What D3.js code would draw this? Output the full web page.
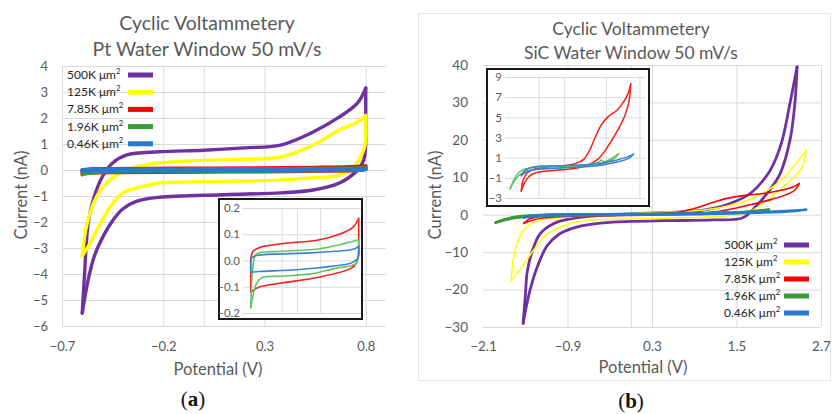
<!DOCTYPE html>
<html>
<head>
<meta charset="utf-8">
<script src="https://cdn.jsdelivr.net/npm/d3@7"></script>
<style>
  body { margin: 0; background: #fff; }
  svg { display: block; }
  text { font-family: Lato, "Open Sans", sans-serif; }
</style>
</head>
<body>
<div id="chart"></div>
<script>
// tick values
const ptXTicks = [-0.7, -0.2, 0.3, 0.8];
const ptYTicks = [-6, -5, -4, -3, -2, -1, 0, 1, 2, 3, 4];
const ptInsetYTicks = [-0.2, -0.1, 0.0, 0.1, 0.2];
const sicXTicks = [-2.1, -0.9, 0.3, 1.5, 2.7];
const sicYTicks = [-30, -20, -10, 0, 10, 20, 30, 40];
const sicInsetYTicks = [-3, -1, 1, 3, 5, 7, 9];

// electrode areas (legend)
const areaLabels = ["500K", "125K", "7.85K", "1.96K", "0.46K"];

// Pt electrodes: [potential V, current nA], forward sweep then return sweep
const ptPurple = [[-0.6, -5.5], [-0.59, -4.2], [-0.57, -2.0], [-0.54, -1.0], [-0.5, -0.25], [-0.45, 0.27], [-0.38, 0.58],
  [-0.22, 0.7], [0.0, 0.76], [0.2, 0.85], [0.38, 0.96], [0.54, 1.46], [0.67, 2.04], [0.76, 2.58], [0.8, 3.15],
  [0.8, 1.15], [0.79, 0.38], [0.76, 0.0], [0.67, -0.5], [0.54, -0.77], [0.38, -0.88], [0.1, -0.95], [-0.22, -1.05],
  [-0.33, -1.2], [-0.4, -1.5], [-0.45, -1.95], [-0.5, -2.6], [-0.54, -3.3], [-0.57, -4.2], [-0.6, -5.5]];
const ptYellow = [[-0.6, -3.3], [-0.58, -2.2], [-0.54, -1.2], [-0.49, -0.57], [-0.43, -0.2], [-0.35, 0.08], [-0.22, 0.27],
  [0.1, 0.4], [0.38, 0.5], [0.54, 0.96], [0.67, 1.54], [0.76, 1.85], [0.8, 2.1],
  [0.8, 1.2], [0.79, 0.77], [0.74, 0.12], [0.67, -0.2], [0.54, -0.3], [0.38, -0.38], [0.1, -0.44], [-0.22, -0.5],
  [-0.31, -0.65], [-0.4, -0.88], [-0.46, -1.4], [-0.52, -2.2], [-0.56, -2.8], [-0.6, -3.3]];
const ptRed = [[-0.6, -0.12], [-0.6, 0.0], [-0.57, 0.035], [-0.48, 0.05], [-0.18, 0.065], [0.26, 0.077], [0.55, 0.1],
  [0.72, 0.125], [0.8, 0.16], [0.8, 0.04], [0.77, -0.01], [0.7, -0.03], [0.26, -0.065], [-0.18, -0.085],
  [-0.48, -0.1], [-0.6, -0.12]];
const ptGreen = [[-0.6, -0.18], [-0.59, -0.1], [-0.57, -0.02], [-0.54, 0.02], [-0.48, 0.03], [-0.2, 0.035], [0.3, 0.045],
  [0.55, 0.06], [0.75, 0.075], [0.8, 0.08], [0.8, 0.02], [0.77, -0.01], [0.7, -0.02], [0.5, -0.03], [0.2, -0.05],
  [-0.2, -0.06], [-0.45, -0.065], [-0.52, -0.085], [-0.56, -0.12], [-0.6, -0.18]];
const ptBlue = [[-0.6, -0.045], [-0.6, 0.0], [-0.58, 0.012], [-0.5, 0.02], [0.0, 0.027], [0.5, 0.035], [0.75, 0.045],
  [0.8, 0.055], [0.79, 0.01], [0.7, -0.01], [0.5, -0.02], [0.0, -0.035], [-0.5, -0.042], [-0.6, -0.045]];

// SiC electrodes
const sicPurple = [[-1.53, -29], [-1.5, -22], [-1.47, -15], [-1.4, -9.7], [-1.29, -5.1], [-1.1, -2.4], [-0.86, -1.1],
  [-0.5, -0.3], [0.0, 0.2], [0.5, 0.6], [0.98, 1.1], [1.2, 1.8], [1.41, 3], [1.69, 5.6], [1.95, 11], [2.06, 15],
  [2.15, 19.9], [2.26, 29.8], [2.36, 39.5],
  [2.33, 30], [2.26, 20], [2.12, 11], [1.93, 5.6], [1.76, 1.9], [1.59, -0.8], [1.17, -1.4], [0.5, -1.6], [0.0, -1.8],
  [-0.4, -2.2], [-0.77, -3.3], [-1.01, -5.1], [-1.19, -8.3], [-1.33, -14], [-1.43, -20], [-1.49, -25], [-1.53, -29]];
const sicYellow = [[-1.7, -17.7], [-1.67, -12], [-1.62, -7.8], [-1.53, -4.3], [-1.39, -2.2], [-1.2, -1.2], [-0.9, -0.6],
  [-0.5, -0.1], [0.0, 0.3], [0.5, 0.7], [1.0, 1.2], [1.17, 1.6], [1.4, 2.5], [1.65, 3.8], [1.98, 7], [2.15, 9.5],
  [2.3, 12.6], [2.49, 17.2],
  [2.43, 12.6], [2.33, 10.3], [2.22, 8.3], [1.98, 4.6], [1.79, 1.9], [1.65, 0.5], [1.4, -0.3], [1.0, -0.7],
  [0.3, -1.0], [-0.3, -1.3], [-0.68, -1.6], [-0.96, -3], [-1.19, -5.1], [-1.39, -9.7], [-1.55, -14], [-1.7, -17.7]];
const sicRed = [[-1.52, -2.3], [-1.45, -1.2], [-1.3, -0.5], [-1.0, -0.1], [-0.5, 0.1], [0.0, 0.2], [0.4, 0.4], [0.7, 0.8],
  [0.95, 1.9], [1.15, 3.2], [1.35, 4.3], [1.6, 5.1], [1.9, 5.7], [2.15, 6.6], [2.3, 7.4], [2.39, 8.3],
  [2.33, 6.6], [2.2, 5.3], [2.0, 4.1], [1.75, 2.9], [1.5, 1.8], [1.2, 0.8], [0.8, 0.2], [0.3, -0.1], [-0.5, -0.3],
  [-1.0, -0.5], [-1.25, -0.9], [-1.42, -1.6], [-1.52, -2.3]];
const sicGreen = [[-1.92, -2.1], [-1.8, -1.3], [-1.65, -0.6], [-1.45, -0.2], [-1.0, 0.05], [0.0, 0.15], [0.8, 0.3],
  [1.2, 0.5], [1.35, 0.75], [1.45, 0.6], [1.7, 0.9], [1.96, 1.4],
  [1.8, 0.9], [1.5, 0.5], [1.0, 0.2], [0.0, 0.0], [-1.0, -0.2], [-1.4, -0.4], [-1.65, -0.9], [-1.8, -1.5], [-1.92, -2.1]];
const sicBlue = [[-1.52, -0.8], [-1.4, -0.3], [-1.2, 0.0], [-0.9, 0.15], [0.0, 0.2], [1.0, 0.35], [1.8, 0.7], [2.2, 1.0],
  [2.49, 1.35],
  [2.3, 0.9], [1.8, 0.5], [1.0, 0.15], [0.0, 0.0], [-1.0, -0.15], [-1.3, -0.35], [-1.52, -0.8]];

const COLORS = ["#7030a0", "#ffff00", "#ff0000", "#3a9a3a", "#2a78cf"];
const INSET_COLORS = { red: "#ff1a1a", green: "#66c466", blue: "#3a80d4" };
const GREY = "#595959";
const GRID = "#d9d9d9";

const svg = d3.select("#chart").append("svg")
  .attr("width", 832)
  .attr("height", 414);

// split a loop where the sweep direction turns, so vertices stay sharp
function splitRuns(pts) {
  const runs = [];
  let cur = [pts[0]], dir = null;
  for (let i = 1; i < pts.length; i++) {
    const d = Math.sign(pts[i][0] - pts[i - 1][0]);
    if (dir !== null && d !== dir) {
      runs.push(cur);
      cur = [pts[i - 1]];
    }
    dir = d;
    cur.push(pts[i]);
  }
  runs.push(cur);
  return runs;
}

function drawLoop(g, pts, x, y, color, width) {
  const line = d3.line()
    .x(d => x(d[0]))
    .y(d => y(d[1]))
    .curve(d3.curveCatmullRom.alpha(0.5));
  g.append("g").selectAll("path")
    .data(splitRuns(pts))
    .join("path")
    .attr("d", line)
    .attr("fill", "none")
    .attr("stroke", color)
    .attr("stroke-width", width)
    .attr("stroke-linejoin", "round")
    .attr("stroke-linecap", "round");
}

function grid(g, x, y, xVals, yVals) {
  const [x0, x1] = x.range();
  const [y0, y1] = y.range();
  g.append("g")
    .attr("transform", `translate(${x0},0)`)
    .call(d3.axisLeft(y).tickValues(yVals).tickSize(-(x1 - x0)).tickFormat(""))
    .call(a => a.select(".domain").remove())
    .call(a => a.selectAll("line").attr("stroke", GRID));
  g.append("g")
    .attr("transform", `translate(0,${y0})`)
    .call(d3.axisBottom(x).tickValues(xVals).tickSize(-(y0 - y1)).tickFormat(""))
    .call(a => a.select(".domain").remove())
    .call(a => a.selectAll("line").attr("stroke", GRID));
}

function tickLabels(g, x, y, xVals, yVals, fmtX, fmtY, size, padX, padY) {
  const [x0] = x.range();
  const [y0] = y.range();
  if (yVals) {
    g.append("g")
      .attr("transform", `translate(${x0},0)`)
      .call(d3.axisLeft(y).tickValues(yVals).tickSize(0).tickPadding(padY).tickFormat(fmtY))
      .call(a => a.select(".domain").remove())
      .call(a => a.selectAll("text").attr("fill", GREY).style("font-size", size + "px")
        .style("font-family", "Lato, 'Open Sans', sans-serif"));
  }
  if (xVals) {
    g.append("g")
      .attr("transform", `translate(0,${y0})`)
      .call(d3.axisBottom(x).tickValues(xVals).tickSize(0).tickPadding(padX).tickFormat(fmtX))
      .call(a => a.select(".domain").remove())
      .call(a => a.selectAll("text").attr("fill", GREY).style("font-size", size + "px")
        .style("font-family", "Lato, 'Open Sans', sans-serif"));
  }
}

function legend(g, x0, swatchX, y0, step, size) {
  areaLabels.forEach((lab, i) => {
    const cy = y0 + i * step;
    const t = g.append("text")
      .attr("x", x0).attr("y", cy + 4)
      .attr("fill", "#262626")
      .style("font-size", size + "px");
    t.append("tspan").text(lab + " \u03bcm");
    t.append("tspan").attr("dy", -5).style("font-size", (size * 0.65) + "px").text("2");
    g.append("rect")
      .attr("x", swatchX).attr("y", cy - 2.5)
      .attr("width", 25).attr("height", 5)
      .attr("fill", COLORS[i]);
  });
}

function titles(g, cx, lines, base, gap, size) {
  lines.forEach((s, i) => {
    g.append("text")
      .attr("x", cx).attr("y", base + i * gap)
      .attr("text-anchor", "middle")
      .attr("fill", GREY)
      .style("font-size", size + "px")
      .text(s);
  });
}

function axisTitles(g, xcx, xby, ycx, ycy, size) {
  g.append("text")
    .attr("x", xcx).attr("y", xby)
    .attr("text-anchor", "middle")
    .attr("fill", GREY)
    .style("font-size", size + "px")
    .text("Potential (V)");
  g.append("text")
    .attr("transform", `translate(${ycx},${ycy}) rotate(-90)`)
    .attr("text-anchor", "middle")
    .attr("fill", GREY)
    .style("font-size", size + "px")
    .text("Current (nA)");
}

function panelTag(g, cx, by, letter) {
  const t = g.append("text")
    .attr("x", cx).attr("y", by)
    .attr("text-anchor", "middle")
    .attr("fill", "#111")
    .style("font-family", "'Liberation Serif', 'DejaVu Serif', serif")
    .style("font-size", "21px");
  t.append("tspan").text("(");
  t.append("tspan").style("font-weight", "bold").text(letter);
  t.append("tspan").text(")");
}

// ---------- panel (a): Pt ----------
const ga = svg.append("g");
const ptX = d3.scaleLinear().domain([-0.7, 0.9]).range([62, 386]);
const ptY = d3.scaleLinear().domain([-6, 4]).range([326, 66]);

grid(ga, ptX, ptY, [-0.7, -0.2, 0, 0.3, 0.8], ptYTicks);
tickLabels(ga, ptX, ptY, ptXTicks, ptYTicks, d3.format(".1f"), d3.format("d"), 13, 16, 14);
titles(ga, 207, ["Cyclic Voltammetery", "Pt Water Window 50 mV/s"], 30, 26, 19.5);
axisTitles(ga, 218, 375, 27, 195, 16.5);

[ptPurple, ptYellow, ptRed, ptGreen, ptBlue].forEach((s, i) => drawLoop(ga, s, ptX, ptY, COLORS[i], 3.4));
legend(ga, 67, 128, 75, 17.2, 12);

// inset (a)
const ia = ga.append("g");
ia.append("rect").attr("x", 219).attr("y", 199).attr("width", 143).attr("height", 120)
  .attr("fill", "#fff").attr("stroke", "#1a1a1a").attr("stroke-width", 2);
const ptInX = d3.scaleLinear().domain([-0.7, 0.83]).range([243, 361]);
const ptInY = d3.scaleLinear().domain([-0.2, 0.2]).range([313, 208]);
grid(ia, ptInX, ptInY, [-0.2, 0, 0.3], ptInsetYTicks);
tickLabels(ia, ptInX, ptInY, null, ptInsetYTicks, null, d3.format(".1f"), 11.5, 0, 3);
drawLoop(ia, ptRed, ptInX, ptInY, INSET_COLORS.red, 1.6);
drawLoop(ia, ptGreen, ptInX, ptInY, INSET_COLORS.green, 1.6);
drawLoop(ia, ptBlue, ptInX, ptInY, INSET_COLORS.blue, 1.6);

panelTag(ga, 193, 406, "a");

// ---------- panel (b): SiC ----------
const gb = svg.append("g");
gb.append("rect").attr("x", 418.5).attr("y", 13.5).attr("width", 412).attr("height", 367)
  .attr("fill", "none").attr("stroke", "#e3e3e3");
const sicX = d3.scaleLinear().domain([-2.1, 2.7]).range([483, 821]);
const sicY = d3.scaleLinear().domain([-30, 40]).range([327, 65]);

grid(gb, sicX, sicY, [-0.9, 0, 0.3, 1.5, 2.7], sicYTicks);
tickLabels(gb, sicX, sicY, sicXTicks, sicYTicks, d3.format(".1f"), d3.format("d"), 13.5, 14, 15);
titles(gb, 631, ["Cyclic Voltammetery", "SiC Water Window 50 mV/s"], 35, 24, 17.5);
axisTitles(gb, 643, 373, 441, 195, 16.5);

const sicWidths = [2.8, 1.5, 1.6, 2.6, 2.2];
[sicPurple, sicYellow, sicRed, sicGreen, sicBlue].forEach((s, i) => drawLoop(gb, s, sicX, sicY, COLORS[i], sicWidths[i]));
legend(gb, 724, 784, 245, 17, 12);

// inset (b)
const ib = gb.append("g");
ib.append("rect").attr("x", 487).attr("y", 69).attr("width", 162).attr("height", 137)
  .attr("fill", "#fff").attr("stroke", "#1a1a1a").attr("stroke-width", 2);
const sicInX = d3.scaleLinear().domain([-2.1, 2.9]).range([505, 645]);
const sicInY = d3.scaleLinear().domain([-3, 9]).range([198, 77]);
grid(ib, sicInX, sicInY, [-0.9, 0, 1.5, 2.7], sicInsetYTicks);
tickLabels(ib, sicInX, sicInY, null, sicInsetYTicks, null, d3.format("d"), 11.5, 0, 3);
drawLoop(ib, sicRed, sicInX, sicInY, INSET_COLORS.red, 1.5);
drawLoop(ib, sicGreen, sicInX, sicInY, INSET_COLORS.green, 1.5);
drawLoop(ib, sicBlue, sicInX, sicInY, INSET_COLORS.blue, 1.5);

panelTag(gb, 631, 408, "b");
</script>
</body>
</html>
